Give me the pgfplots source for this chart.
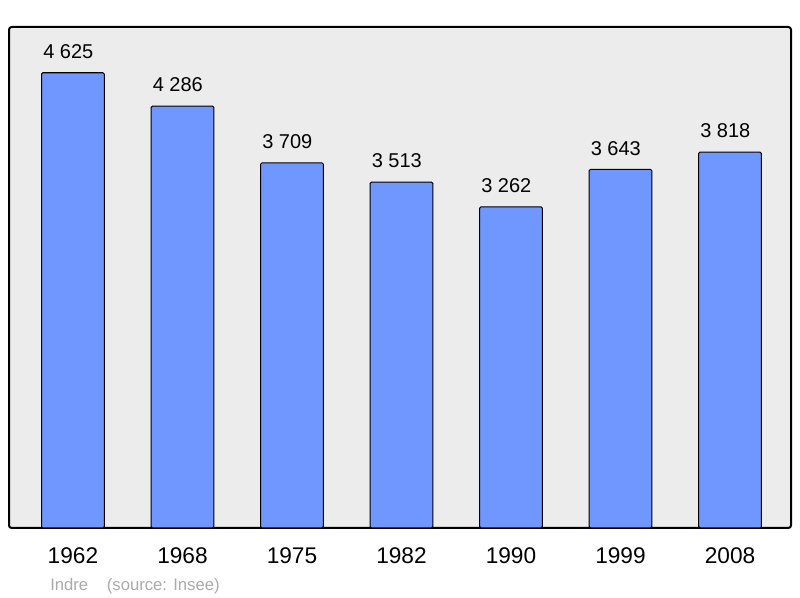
\documentclass[border=0pt]{standalone}
\usepackage{pgfplots}
\pgfplotsset{compat=1.18}
\usepackage{fontspec}
\setmainfont{Liberation Sans}
\definecolor{bg}{RGB}{236,236,236}
\definecolor{barblue}{RGB}{112,150,255}
\definecolor{srcgray}{RGB}{170,170,170}
\begin{document}
\begin{tikzpicture}
\useasboundingbox (0pt,0pt) rectangle (600pt,448.5pt);
\begin{axis}[
  at={(6.75pt,52.5pt)}, anchor=south west, scale only axis,
  width=586.5pt, height=375.75pt,
  xmin=-0.584, xmax=6.557, ymin=0, ymax=5090,
  enlargelimits=false,
  axis background/.style={fill=bg},
  axis line style={line width=1.5pt, rounded corners=2pt},
  ytick=\empty,
  xtick={0,1,2,3,4,5,6},
  xticklabels={1962,1968,1975,1982,1990,1999,2008},
  major tick length=0pt,
  xticklabel style={anchor=base, yshift=-27pt, font=\fontsize{17}{17}\selectfont},
  ybar, bar width=47pt,
  point meta=explicit symbolic,
  nodes near coords,
  every node near coord/.append style={anchor=base, yshift=10.8pt, xshift=-3.5pt, font=\fontsize{15}{15}\selectfont, text=black},
]
\addplot[fill=barblue, draw=black, line width=0.8pt, rounded corners=1pt] coordinates {
  (0,4625) [4 625]
  (1,4286) [4 286]
  (2,3709) [3 709]
  (3,3513) [3 513]
  (4,3262) [3 262]
  (5,3643) [3 643]
  (6,3818) [3 818]
};
\end{axis}
\node[anchor=base west, inner sep=0pt, text=srcgray, font=\fontsize{12.5}{12.5}\selectfont] at (37.5pt,5.25pt) {Indre\hspace{14pt}(source: Insee)};
\end{tikzpicture}
\end{document}
